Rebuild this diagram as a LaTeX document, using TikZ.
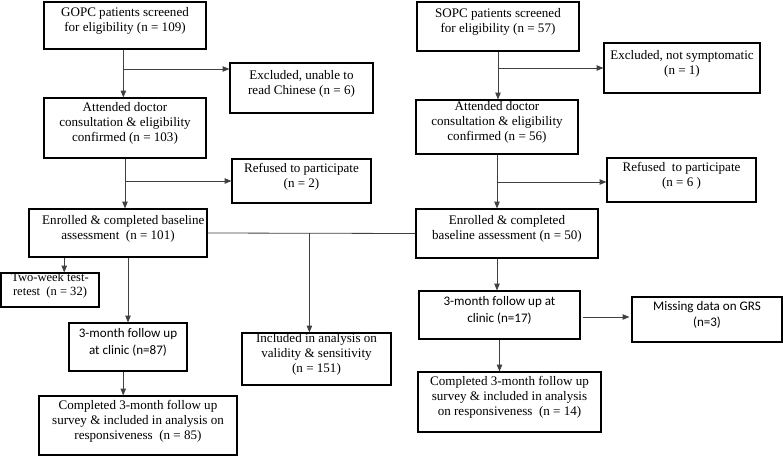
\documentclass[tikz,border=0pt]{standalone}
\usepackage{fontspec}
\setmainfont{Liberation Serif}
\newfontfamily\calfont{Carlito}
\usetikzlibrary{arrows.meta,fit,calc}
\begin{document}
\begin{tikzpicture}[x=0.75pt,y=-0.75pt,
  box/.style={draw=black,line width=0.9pt,inner sep=0pt,align=center,font=\fontsize{9.8}{11.2}\selectfont},
  sbox/.style={box,font=\calfont\fontsize{9.8}{12.5}\selectfont},
  arr/.style={draw=black!75,line width=0.6pt,-{Triangle[length=5pt,width=4pt]}},
  ln/.style={draw=black!75,line width=0.6pt}]
\useasboundingbox (0,0) rectangle (783,457);
% left column
\node[box,fit={(44,2) (206,49)}] (A) {GOPC patients screened\\for eligibility (n = 109)};
\node[box,fit={(230,63) (373,113)}] (B) {Excluded, unable to\\read Chinese (n = 6)};
\node[box,fit={(44,98) (206,158)}] (C) {Attended doctor\\consultation \& eligibility\\confirmed (n = 103)};
\node[box,fit={(232,159) (371,203)}] (D) {Refused to participate\\(n = 2)};
\node[box,fit={(29,209) (207,257)}] (E) {\hspace*{8pt}Enrolled \& completed baseline\\assessment\ \ (n = 101)};
\node[box,fit={(1,273) (99,307)},font=\fontsize{9.4}{10.2}\selectfont] (F) {Two-week test-\\retest\ \ (n = 32)};
\node[sbox,fit={(69,323) (187,371)}] (G) {3-month follow up\\at clinic (n=87)};
\node[box,fit={(39,396) (237,455)}] (H) {Completed 3-month follow up\\survey \& included in analysis on\\responsiveness\ \ (n = 85)};
\node[box,fit={(242,333) (391,385)}] (I) {Included in analysis on\\validity \& sensitivity\\(n = 151)};
% right column
\node[box,fit={(417,2) (579,51)}] (J) {SOPC patients screened\\for eligibility (n = 57)};
\node[box,fit={(604,43) (760,93)}] (K) {Excluded, not symptomatic\\(n = 1)\\[8pt]};
\node[box,fit={(416,100) (578,154)}] (L) {Attended doctor\\consultation \& eligibility\\confirmed (n = 56)};
\node[box,fit={(607,158) (756,202)}] (M) {Refused\ \ to participate\\(n = 6 )};
\node[box,fit={(416,209) (598,258)}] (N) {Enrolled \& completed\\baseline assessment (n = 50)};
\node[sbox,fit={(419,291) (580,339)}] (O) {3-month follow up at\\clinic (n=17)};
\node[sbox,fit={(632,297) (782,342)}] (P) {Missing data on GRS\\(n=3)};
\node[box,fit={(418,372) (601,432)}] (Q) {Completed 3-month follow up\\survey \& included in analysis\\on responsiveness\ \ (n = 14)};
% junction coordinates
\coordinate (a1) at ($(A.south west)!0.49!(A.south east)$);
\coordinate (b1) at (a1 |- 0,69);
\coordinate (c1) at ($(C.south west)!0.5!(C.south east)$);
\coordinate (e1) at ($(E.south west)!0.2!(E.south east)$);
\coordinate (g1) at ($(G.south west)!0.46!(G.south east)$);
\coordinate (jn) at ($(E.east)!0.49!(N.west)$);
\coordinate (n1) at (L.south |- N.south);
% left connectors
\draw[arr] (a1) -- (a1 |- C.north);
\draw[arr] (b1) -- (b1 -| B.west);
\draw[arr] (c1) -- (c1 |- E.north);
\draw[arr] (c1 |- D.west) -- (D.west);
\draw[arr] (e1) -- (e1 |- F.north);
\draw[arr] (G.north |- E.south) -- (G.north);
\draw[arr] (g1) -- (g1 |- H.north);
\draw[ln] (E.east) -- (N.west);
\draw[arr] (jn) -- (jn |- I.north);
% right connectors
\draw[arr] (J.south) -- (J.south |- L.north);
\draw[arr] (J.south |- K.west) -- (K.west);
\draw[arr] (L.south) -- (L.south |- N.north);
\draw[arr] (L.south |- 0,182) -- (M.west |- 0,182);
\draw[arr] (n1) -- (n1 |- O.north);
\draw[arr,shorten <=1.5pt,shorten >=1.5pt] (O.east |- 0,317) -- (P.west |- 0,317);
\draw[arr] (O.south) -- (O.south |- Q.north);
\end{tikzpicture}
\end{document}
